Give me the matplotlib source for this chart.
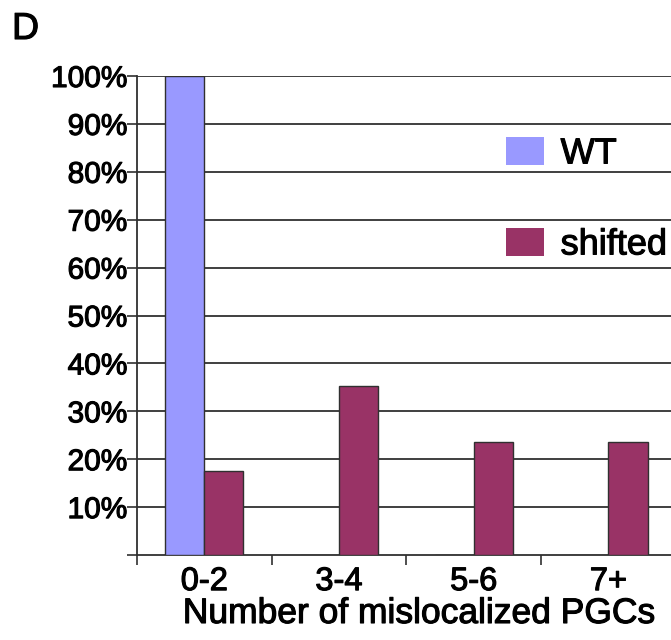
import matplotlib
matplotlib.use("Agg")
import matplotlib.pyplot as plt
import matplotlib.patheffects as pe
import numpy as np

categories = ["0-2", "3-4", "5-6", "7+"]
wt = [100.0, 0.0, 0.0, 0.0]
shifted = [17.6, 35.3, 23.5, 23.5]
series_names = ["WT", "shifted"]
colors = ["#9999FF", "#993366"]
yticks = [10, 20, 30, 40, 50, 60, 70, 80, 90, 100]

plt.rcParams['font.family'] = ['Liberation Sans', 'DejaVu Sans']
thick = [pe.withStroke(linewidth=0.8, foreground="black")]

fig = plt.figure(figsize=(6.71, 6.40), dpi=100)
ax = fig.add_axes([137/671, 1-555/640, 1-137/671, (555-76)/640])

x = np.arange(len(categories))
w = 0.29
lc = "#303030"
ax.bar(x - w/2, wt, width=w, color=colors[0], edgecolor=lc, linewidth=1.0, zorder=3, label=series_names[0])
ax.bar(x + w/2, shifted, width=w, color=colors[1], edgecolor=lc, linewidth=1.0, zorder=3, label=series_names[1])

ax.set_xlim(-0.5, -0.5 + 534/134.7)
ax.set_ylim(0, 100)

for v in yticks:
    ax.axhline(v, color=lc, linewidth=1.3, zorder=1)

for s in ["top", "right"]:
    ax.spines[s].set_visible(False)
for s in ["left", "bottom"]:
    ax.spines[s].set_color(lc)
    ax.spines[s].set_linewidth(1.3)

ax.set_yticks([0] + yticks)
ax.set_yticklabels([""] + [f"{v}%" for v in yticks], fontsize=21.5)
ax.tick_params(axis="y", direction="out", length=7, width=1.2, color=lc, pad=0)

ax.set_xticks(x)
ax.set_xticklabels(categories, fontsize=23.5)
ax.set_xticks([-0.5, 0.5, 1.5, 2.5], minor=True)
ax.tick_params(axis="x", which="major", length=0, pad=8)
ax.tick_params(axis="x", which="minor", direction="out", length=7, width=1.2, color=lc)

ax.set_xlabel("Number of mislocalized PGCs", fontsize=25.5)
ax.xaxis.set_label_coords((419-137)/534, -(623-555)/479)
ax.xaxis.label.set_va("baseline")

leg = ax.legend(loc="upper left", bbox_to_anchor=(355/534, 1 - 46/479), frameon=False,
                fontsize=26, handlelength=1.05, handleheight=0.8, labelspacing=1.55,
                handletextpad=0.45, borderaxespad=0)
for h in leg.legend_handles:
    h.set_edgecolor("none")

fig.text(12/671, 1-39/640, "D", fontsize=27, ha="left", va="baseline")

for t in (ax.get_yticklabels() + ax.get_xticklabels() + [ax.xaxis.label] +
          leg.get_texts() + fig.texts):
    t.set_path_effects(thick)

fig.savefig("out.png", dpi=100)
